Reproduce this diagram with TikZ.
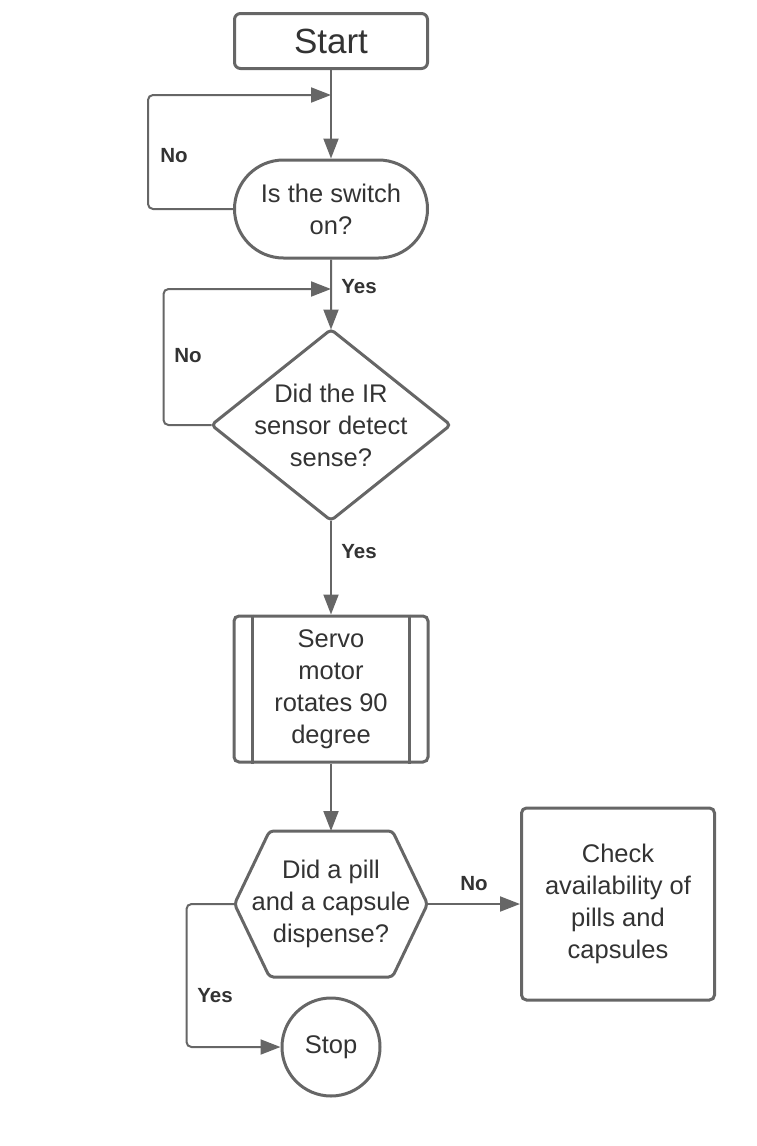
\documentclass[tikz,border=0pt]{standalone}
\usepackage{fontspec}
\setmainfont{Liberation Sans}
\usetikzlibrary{shapes.geometric,shapes.misc,arrows.meta}
\definecolor{linegray}{HTML}{666666}
\definecolor{textgray}{HTML}{333333}

\begin{document}
\begin{tikzpicture}[x=1pt, y=-1pt,
    box/.style={draw=linegray, line width=3pt, fill=white, text=textgray, align=center,
      inner sep=0pt, font=\fontsize{25.5}{32}\selectfont},
    arr/.style={draw=linegray, line width=2pt, -{Triangle[length=20pt,width=15pt]}},
    lbl/.style={text=textgray, font=\fontsize{20.5}{22}\selectfont\bfseries}]
    \useasboundingbox (0,0) rectangle (756,1146);
    \node[box, rounded corners=6pt, minimum width=193pt, minimum height=55pt, font=\fontsize{35}{40}\selectfont] (start) at (331,41) {Start};
    \node[box, rounded rectangle, minimum width=193pt, minimum height=98pt] (switch) at (331,209) {Is the switch\\on?};
    % diamond and hexagon drawn round empty boxes
    \node[box, draw=none, fill=none, minimum width=236pt, minimum height=188pt] (ir) at (331,425) {Did the IR\\sensor detect\\sense?};
    \draw[linegray, line width=3pt, rounded corners=4pt] (ir.north) -- (ir.east) -- (ir.south) -- (ir.west) -- cycle;
    \node[box, rounded corners=5pt, minimum width=194pt, minimum height=146pt] (servo) at (331,689) {Servo\\motor\\rotates 90\\degree};
    \draw[linegray, line width=3pt] ([xshift=20pt]servo.north west) -- ([xshift=20pt]servo.south west)
      ([xshift=-20pt]servo.north east) -- ([xshift=-20pt]servo.south east);
    \node[box, draw=none, fill=none, minimum width=190pt, minimum height=143pt] (pill) at (331,904) {Did a pill\\and a capsule\\dispense?};
    \draw[linegray, line width=3pt, rounded corners=4pt] (pill.west) -- ([xshift=35pt]pill.north west) -- ([xshift=-35pt]pill.north east)
      -- (pill.east) -- ([xshift=-35pt]pill.south east) -- ([xshift=35pt]pill.south west) -- cycle;
    \node[box, rounded corners=5pt, minimum width=193pt, minimum height=192pt] (check) at (618,904) {Check\\availability of\\pills and\\capsules};
    \node[box, circle, minimum size=98pt] (stop) at (331,1047) {Stop};

    \coordinate (j1) at (331,95);
    \coordinate (j2) at (331,289);
    \draw[arr] (start) -- (switch);
    \draw[arr, rounded corners=5pt] (switch.west) -- ++(-85,0) |- (j1);
    \draw[arr] (switch) -- (ir);
    \draw[arr, rounded corners=5pt] (ir.west) -- ++(-48,0) |- (j2);
    \draw[arr] (ir) -- (servo);
    \draw[arr] (servo) -- (pill);
    \draw[arr] (pill) -- (check);
    \draw[arr, rounded corners=5pt] (pill.west) -- ++(-48,0) |- (stop);
    \node[lbl] (no1) at (174,156) {No};
    \node[lbl] (yes1) at (359,287) {Yes};
    \node[lbl] (no2) at (188,356) {No};
    \node[lbl] (yes2) at (359,552) {Yes};
    \node[lbl] (no3) at (474,884) {No};
    \node[lbl] (yes3) at (215,996) {Yes};
\end{tikzpicture}
\end{document}
